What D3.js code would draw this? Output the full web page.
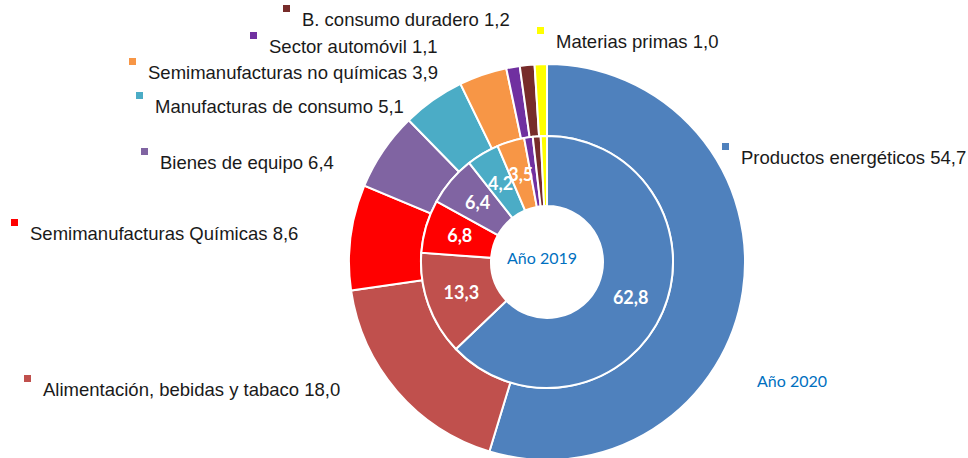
<!DOCTYPE html>
<html lang="es">
<head>
<meta charset="utf-8">
<title>Exportaciones por sector</title>
<script src="https://d3js.org/d3.v7.min.js"></script>
<style>
  body { margin: 0; background: #fff; }
  .lbl { font-family: "Liberation Sans", Arial, sans-serif; font-size: 18.5px; fill: #1a1a1a; }
  .val { font-family: Lato, "Open Sans", sans-serif; font-size: 18px; font-weight: bold; fill: #fff; }
  .year { font-family: Lato, "Open Sans", sans-serif; font-size: 16px; fill: #0070C0; }
</style>
</head>
<body>
<script>
// sectores, en el orden de las porciones (desde las 12, sentido horario)
var sectors = ["Productos energéticos", "Alimentación, bebidas y tabaco", "Semimanufacturas Químicas",
  "Bienes de equipo", "Manufacturas de consumo", "Semimanufacturas no químicas",
  "Sector automóvil", "B. consumo duradero", "Materias primas"];
var values2020 = [54.7, 18.0, 8.6, 6.4, 5.1, 3.9, 1.1, 1.2, 1.0];
var values2019 = [62.8, 13.3, 6.8, 6.4, 4.2, 3.5, 1.1, 1.0, 0.8];
var colors = ["#4F81BD", "#C0504D", "#FF0000", "#8064A2", "#4BACC6", "#F79646", "#7030A0", "#772C2A", "#FFFF00"];
// which inner values get a label
var shown2019 = [true, true, true, true, true, true, false, false, false];

// where each outer label sits (square x, text baseline y)
var labelPos = [[722, 164], [24, 396], [11, 240], [141, 169], [136, 113], [129, 79], [250, 53], [283, 26], [537, 48]];

var width = 968, height = 458;
var cx = 547, cy = 262;

var fmt = function(v) { return d3.format(".1f")(v).replace(".", ","); };

var svg = d3.select("body").append("svg")
  .attr("width", width)
  .attr("height", height);

var g = svg.append("g").attr("transform", "translate(" + cx + "," + cy + ")");

var pie = d3.pie().sort(null).value(function(d) { return d; });

var outerArc = d3.arc().innerRadius(126).outerRadius(198);
var innerArc = d3.arc().innerRadius(56).outerRadius(126);

g.selectAll(".outer")
  .data(pie(values2020))
  .enter().append("path")
  .attr("class", "outer")
  .attr("d", outerArc)
  .attr("fill", function(d, i) { return colors[i]; })
  .attr("stroke", "#fff")
  .attr("stroke-width", 2);

g.selectAll(".inner")
  .data(pie(values2019))
  .enter().append("path")
  .attr("class", "inner")
  .attr("d", innerArc)
  .attr("fill", function(d, i) { return colors[i]; })
  .attr("stroke", "#fff")
  .attr("stroke-width", 2);

g.selectAll(".val")
  .data(pie(values2019).filter(function(d, i) { return shown2019[i]; }))
  .enter().append("text")
  .attr("class", "val")
  .attr("text-anchor", "middle")
  .attr("dy", "0.35em")
  .attr("transform", function(d) { return "translate(" + innerArc.centroid(d) + ")"; })
  .text(function(d) { return fmt(d.value); });

g.append("text")
  .attr("class", "year")
  .attr("text-anchor", "middle")
  .attr("x", -5).attr("y", 2)
  .text("Año 2019");

svg.append("text")
  .attr("class", "year")
  .attr("x", 757).attr("y", 387)
  .text("Año 2020");

// outer labels with small colour squares
var lab = svg.selectAll(".lab")
  .data(sectors)
  .enter().append("g")
  .attr("class", "lab")
  .attr("transform", function(d, i) { return "translate(" + labelPos[i][0] + "," + labelPos[i][1] + ")"; });

lab.append("rect")
  .attr("x", 0).attr("y", -21)
  .attr("width", 7).attr("height", 7)
  .attr("fill", function(d, i) { return colors[i]; });

lab.append("text")
  .attr("class", "lbl")
  .attr("x", 19)
  .text(function(d, i) { return d + " " + fmt(values2020[i]); });
</script>
</body>
</html>
